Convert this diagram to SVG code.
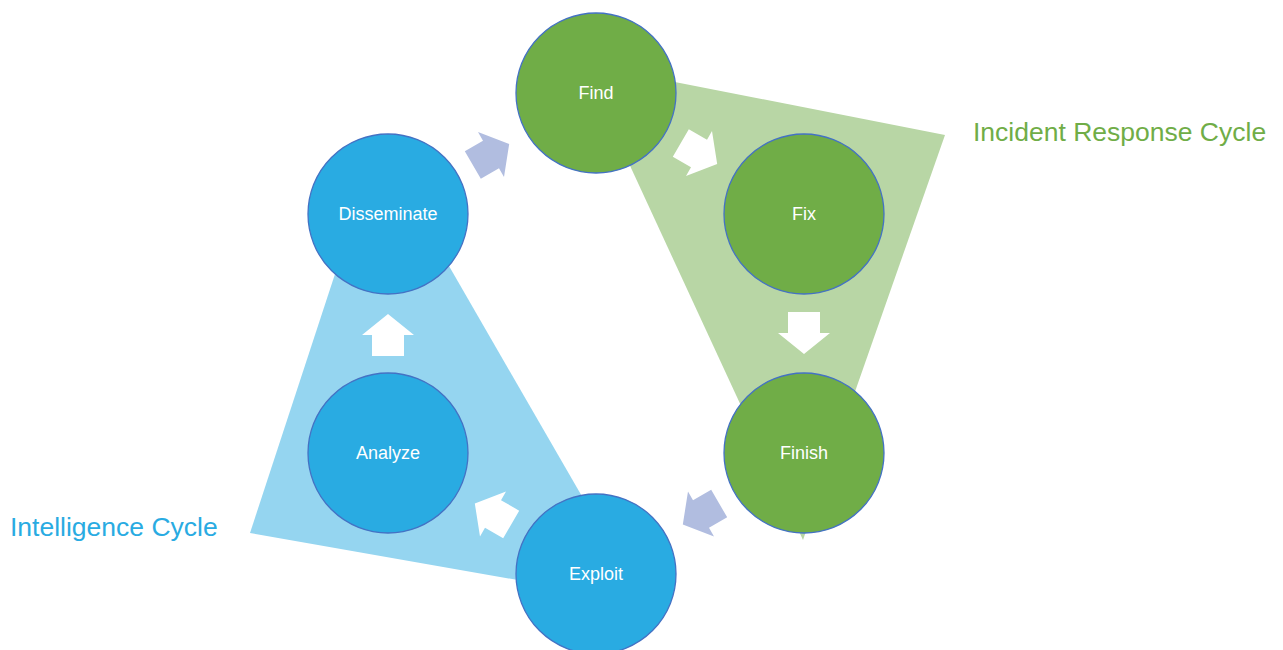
<svg xmlns="http://www.w3.org/2000/svg" width="1283" height="650" viewBox="0 0 1283 650">
  <style>
    .node-green { fill: #70ad47; stroke: #4472c4; stroke-width: 1.3; }
    .node-blue { fill: #29abe2; stroke: #4472c4; stroke-width: 1.3; }
    .node-label { fill: #ffffff; font-family: "Liberation Sans", Arial, sans-serif; font-size: 18px; text-anchor: middle; }
    .cycle-label { font-family: "Liberation Sans", Arial, sans-serif; font-size: 26.5px; }
    .arrow-white { fill: #ffffff; }
    .arrow-lav { fill: #b1bde0; }
  </style>
  <defs>
    <!-- block arrow pointing along +x, centred on the origin -->
    <path id="blockArrow" d="M-21,-16 L0,-16 L0,-26 L21,0 L0,26 L0,16 L-21,16 Z"/>
  </defs>

  <!-- cycle backdrops -->
  <g id="backdrops">
    <polygon points="583,64 945,135 803,540" fill="#b8d6a5"/>
    <polygon points="378,143 643,602 250,533" fill="#95d5f0"/>
  </g>

  <!-- connectors -->
  <g id="connectors">
    <use href="#blockArrow" class="arrow-lav" transform="translate(491,154.5) rotate(-30)"/>
    <use href="#blockArrow" class="arrow-white" transform="translate(699,153.5) rotate(30)"/>
    <use href="#blockArrow" class="arrow-white" transform="translate(804,333) rotate(90)"/>
    <use href="#blockArrow" class="arrow-lav" transform="translate(701,514) rotate(150)"/>
    <use href="#blockArrow" class="arrow-white" transform="translate(493,514) rotate(210)"/>
    <use href="#blockArrow" class="arrow-white" transform="translate(388,335) rotate(-90)"/>
  </g>

  <g id="node-find">
    <circle class="node-green" cx="596" cy="93" r="80"/>
    <text class="node-label" x="596" y="99">Find</text>
  </g>
  <g id="node-fix">
    <circle class="node-green" cx="804" cy="214" r="80"/>
    <text class="node-label" x="804" y="220">Fix</text>
  </g>
  <g id="node-finish">
    <circle class="node-green" cx="804" cy="453" r="80"/>
    <text class="node-label" x="804" y="459">Finish</text>
  </g>
  <g id="node-exploit">
    <circle class="node-blue" cx="596" cy="574" r="80"/>
    <text class="node-label" x="596" y="580">Exploit</text>
  </g>
  <g id="node-analyze">
    <circle class="node-blue" cx="388" cy="453" r="80"/>
    <text class="node-label" x="388" y="459">Analyze</text>
  </g>
  <g id="node-disseminate">
    <circle class="node-blue" cx="388" cy="214" r="80"/>
    <text class="node-label" x="388" y="220">Disseminate</text>
  </g>

  <g id="labels">
    <text class="cycle-label" x="973" y="141" fill="#70ad47">Incident Response Cycle</text>
    <text class="cycle-label" x="10" y="536" fill="#29abe2">Intelligence Cycle</text>
  </g>
</svg>
